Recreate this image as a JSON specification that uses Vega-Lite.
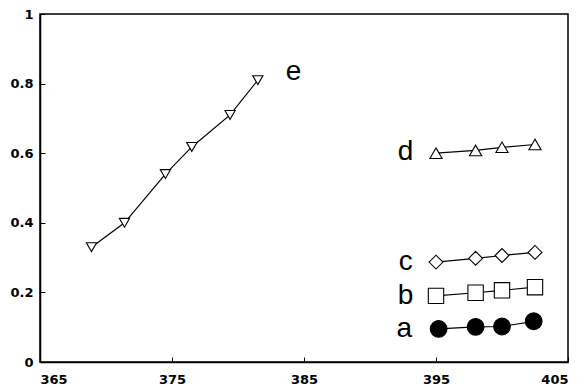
{
  "$schema": "https://vega.github.io/schema/vega-lite/v6.json",
  "width": 528,
  "height": 348,
  "autosize": {"type": "none"},
  "padding": {"left": 40, "top": 14, "right": 17, "bottom": 25},
  "background": "white",
  "config": {
    "view": {"stroke": "black", "strokeWidth": 1.5},
    "axis": {
      "labelFont": "DejaVu Sans",
      "labelFontWeight": "bold",
      "labelFontSize": 13,
      "labelColor": "black",
      "domainColor": "black",
      "tickColor": "black",
      "grid": false,
      "title": null
    }
  },
  "datasets": {
    "pts": [
      {"series": "e", "x": 368.9, "y": 0.33},
      {"series": "e", "x": 371.4, "y": 0.40},
      {"series": "e", "x": 374.5, "y": 0.54},
      {"series": "e", "x": 376.5, "y": 0.618},
      {"series": "e", "x": 379.4, "y": 0.71},
      {"series": "e", "x": 381.5, "y": 0.81},
      {"series": "d", "x": 395.0, "y": 0.60},
      {"series": "d", "x": 398.0, "y": 0.608},
      {"series": "d", "x": 400.0, "y": 0.617},
      {"series": "d", "x": 402.5, "y": 0.625},
      {"series": "c", "x": 395.0, "y": 0.287},
      {"series": "c", "x": 398.0, "y": 0.298},
      {"series": "c", "x": 400.0, "y": 0.306},
      {"series": "c", "x": 402.5, "y": 0.315},
      {"series": "b", "x": 395.0, "y": 0.19},
      {"series": "b", "x": 398.0, "y": 0.199},
      {"series": "b", "x": 400.0, "y": 0.206},
      {"series": "b", "x": 402.5, "y": 0.215},
      {"series": "a", "x": 395.2, "y": 0.095},
      {"series": "a", "x": 398.0, "y": 0.101},
      {"series": "a", "x": 400.0, "y": 0.102},
      {"series": "a", "x": 402.4, "y": 0.117}
    ],
    "labels": [
      {"text": "e", "x": 384.2, "y": 0.833},
      {"text": "d", "x": 392.7, "y": 0.603},
      {"text": "c", "x": 392.7, "y": 0.287},
      {"text": "b", "x": 392.7, "y": 0.19},
      {"text": "a", "x": 392.6, "y": 0.095}
    ]
  },
  "encoding": {
    "x": {
      "field": "x", "type": "quantitative",
      "scale": {"domain": [365, 405], "nice": false, "zero": false},
      "axis": {"values": [365, 375, 385, 395, 405], "tickSize": -5, "labelPadding": 16, "domainWidth": 1.5}
    },
    "y": {
      "field": "y", "type": "quantitative",
      "scale": {"domain": [0, 1], "nice": false},
      "axis": {"values": [0, 0.2, 0.4, 0.6, 0.8, 1], "format": "~g", "tickSize": -5, "labelPadding": 12, "domainWidth": 1.5}
    }
  },
  "layer": [
    {
      "data": {"name": "pts"},
      "mark": {"type": "line", "color": "black", "strokeWidth": 1.2},
      "encoding": {"detail": {"field": "series"}}
    },
    {
      "data": {"name": "pts"},
      "mark": {"type": "point", "filled": true, "strokeWidth": 1.1, "stroke": "black", "opacity": 1},
      "encoding": {
        "shape": {
          "field": "series", "type": "nominal",
          "scale": {"domain": ["a", "b", "c", "d", "e"], "range": ["circle", "square", "diamond", "triangle-up", "triangle-down"]},
          "legend": null
        },
        "fill": {
          "field": "series", "type": "nominal",
          "scale": {"domain": ["a", "b", "c", "d", "e"], "range": ["black", "white", "white", "white", "white"]},
          "legend": null
        },
        "size": {
          "field": "series", "type": "nominal",
          "scale": {"domain": ["a", "b", "c", "d", "e"], "range": [280, 105, 144, 190, 250]},
          "legend": null
        }
      }
    },
    {
      "data": {"name": "labels"},
      "mark": {"type": "text", "font": "Liberation Sans", "fontSize": 28, "color": "black", "baseline": "middle", "align": "center"},
      "encoding": {"text": {"field": "text"}}
    }
  ]
}
